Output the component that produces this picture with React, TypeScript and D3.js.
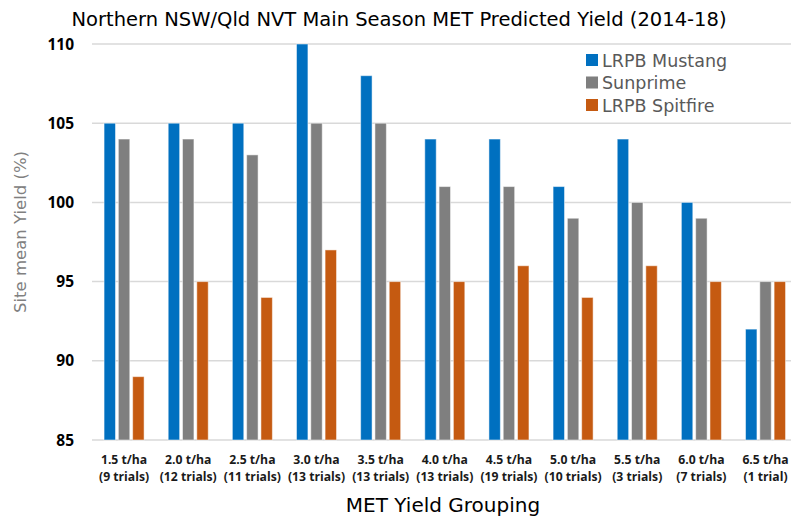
import React, { useRef, useEffect } from "react";
import * as d3 from "d3";

const groups = ["1.5 t/ha", "2.0 t/ha", "2.5 t/ha", "3.0 t/ha", "3.5 t/ha", "4.0 t/ha", "4.5 t/ha", "5.0 t/ha", "5.5 t/ha", "6.0 t/ha", "6.5 t/ha"];
const trials = ["(9 trials)", "(12 trials)", "(11 trials)", "(13 trials)", "(13 trials)", "(13 trials)", "(19 trials)", "(10 trials)", "(3 trials)", "(7 trials)", "(1 trial)"];
const seriesNames = ["LRPB Mustang", "Sunprime", "LRPB Spitfire"];
const mustang = [105, 105, 105, 110, 108, 104, 104, 101, 104, 100, 92];
const sunprime = [104, 104, 103, 105, 105, 101, 101, 99, 100, 99, 95];
const spitfire = [89, 95, 94, 97, 95, 95, 96, 94, 96, 95, 95];
const yTicks = [85, 90, 95, 100, 105, 110];
const colors = ["#0070C0", "#7F7F7F", "#C55A11"];

const W = 791;
const H = 520;

export default function App() {
  const svgRef = useRef(null);

  useEffect(() => {
    const svg = d3.select(svgRef.current);
    svg.selectAll("*").remove();

    const values = [mustang, sunprime, spitfire];
    const x0 = d3.scaleBand().domain(groups).range([92, 797.6]).paddingInner(0.376).paddingOuter(0.188);
    const x1 = d3.scaleBand().domain(seriesNames).range([0, x0.bandwidth()]).paddingInner(0.2);
    const y = d3.scaleLinear().domain([85, 110]).range([440, 44]);

    // gridlines
    svg.append("g")
      .selectAll("line")
      .data(yTicks)
      .join("line")
      .attr("x1", 92)
      .attr("x2", W)
      .attr("y1", d => y(d))
      .attr("y2", d => y(d))
      .attr("stroke", "#D9D9D9")
      .attr("stroke-width", 1.5);

    // y tick labels
    svg.append("g")
      .selectAll("text")
      .data(yTicks)
      .join("text")
      .attr("x", 74)
      .attr("y", d => y(d) + 5.5)
      .attr("text-anchor", "end")
      .attr("font-family", "Open Sans")
      .attr("font-weight", "bold")
      .attr("font-size", 15.5)
      .attr("fill", "#000")
      .text(d => d);

    // bars
    const g = svg.append("g")
      .selectAll("g")
      .data(groups)
      .join("g")
      .attr("transform", d => `translate(${x0(d)},0)`);

    g.selectAll("rect")
      .data((_, i) => seriesNames.map((s, k) => ({ s, k, v: values[k][i] })))
      .join("rect")
      .attr("x", d => x1(d.s))
      .attr("y", d => y(d.v))
      .attr("width", x1.bandwidth())
      .attr("height", d => 440 - y(d.v))
      .attr("fill", d => colors[d.k])
      .attr("stroke", "#fff")
      .attr("stroke-opacity", 0.5)
      .attr("stroke-width", 1);

    // category labels
    const lab = svg.append("g")
      .selectAll("text")
      .data(groups)
      .join("text")
      .attr("text-anchor", "middle")
      .attr("font-family", "Open Sans")
      .attr("font-weight", "bold")
      .attr("font-size", 12.2)
      .attr("fill", "#1a1a1a");
    lab.append("tspan")
      .attr("x", d => x0(d) + x0.bandwidth() / 2)
      .attr("y", 464)
      .text(d => d);
    lab.append("tspan")
      .attr("x", d => x0(d) + x0.bandwidth() / 2)
      .attr("y", 481)
      .text((_, i) => trials[i]);

    // legend
    const leg = svg.append("g");
    seriesNames.forEach((s, i) => {
      leg.append("rect")
        .attr("x", 586)
        .attr("y", 54 + i * 22.5)
        .attr("width", 12)
        .attr("height", 12)
        .attr("fill", colors[i]);
      leg.append("text")
        .attr("x", 602)
        .attr("y", 66.5 + i * 22.5)
        .attr("font-family", "DejaVu Sans")
        .attr("font-size", 17.5)
        .attr("fill", "#595959")
        .text(s);
    });

    // title
    svg.append("text")
      .attr("x", 399)
      .attr("y", 26)
      .attr("text-anchor", "middle")
      .attr("font-family", "DejaVu Sans")
      .attr("font-size", 19.5)
      .attr("fill", "#000")
      .text("Northern NSW/Qld NVT Main Season MET Predicted Yield (2014-18)");

    // axis titles
    svg.append("text")
      .attr("transform", "translate(26,232) rotate(-90)")
      .attr("text-anchor", "middle")
      .attr("font-family", "DejaVu Sans")
      .attr("font-size", 16.5)
      .attr("fill", "#808080")
      .text("Site mean Yield (%)");

    svg.append("text")
      .attr("x", 443)
      .attr("y", 512)
      .attr("text-anchor", "middle")
      .attr("font-family", "DejaVu Sans")
      .attr("font-size", 20)
      .attr("fill", "#000")
      .text("MET Yield Grouping");
  }, []);

  return (
    <svg ref={svgRef} width={W} height={H} style={{ position: "absolute", left: 0, top: 0, background: "#fff" }} />
  );
}
